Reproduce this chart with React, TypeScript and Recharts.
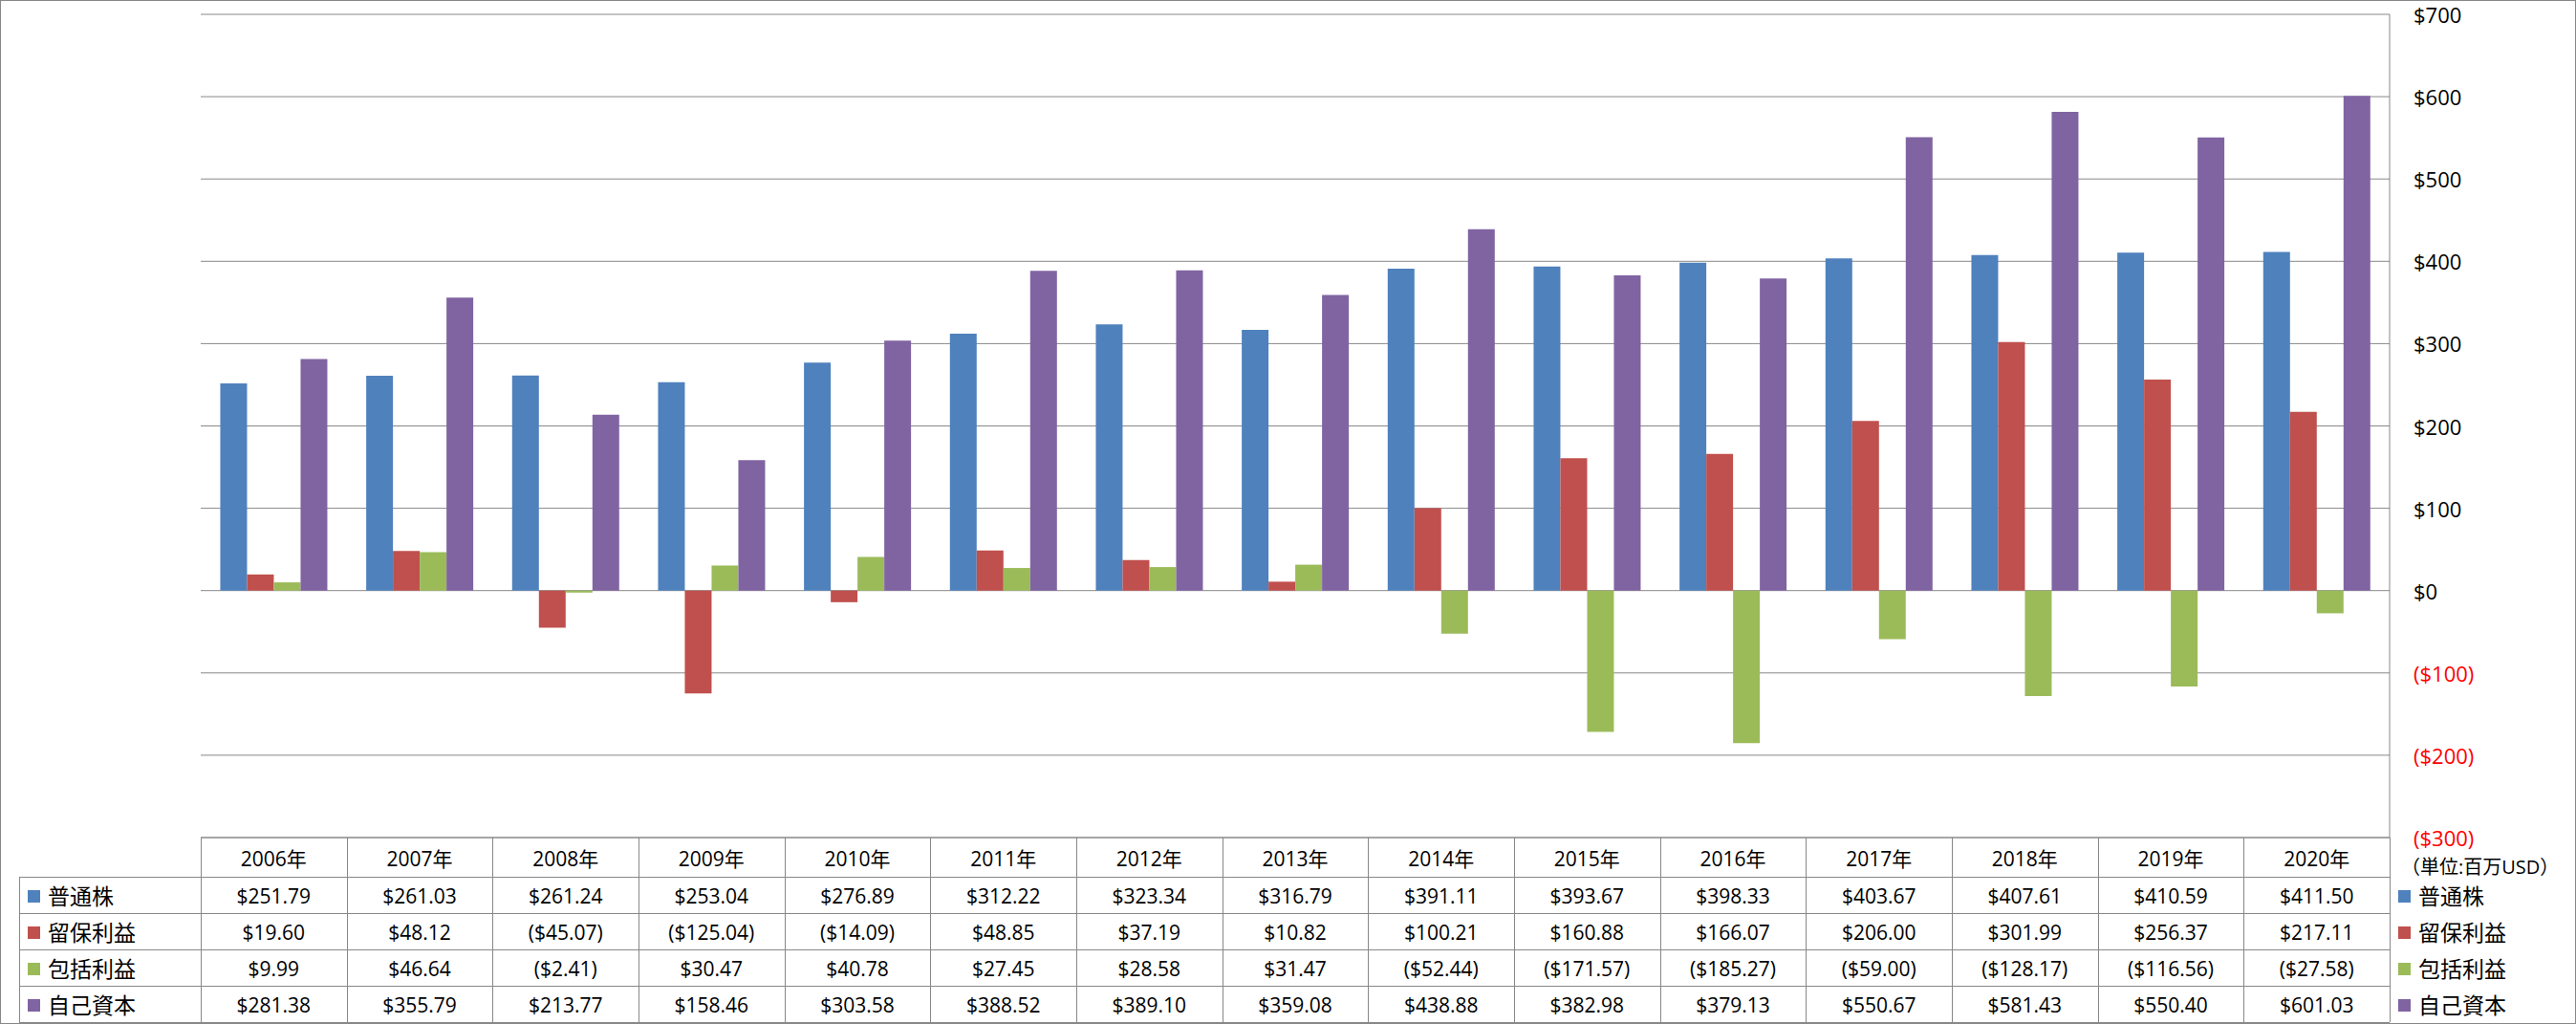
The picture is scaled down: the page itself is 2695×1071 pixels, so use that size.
import { BarChart, Bar, XAxis, YAxis, CartesianGrid } from 'recharts';

const years = ['2006年', '2007年', '2008年', '2009年', '2010年', '2011年', '2012年', '2013年', '2014年', '2015年', '2016年', '2017年', '2018年', '2019年', '2020年'];
const commonStock = [251.79, 261.03, 261.24, 253.04, 276.89, 312.22, 323.34, 316.79, 391.11, 393.67, 398.33, 403.67, 407.61, 410.59, 411.5];
const retainedEarnings = [19.6, 48.12, -45.07, -125.04, -14.09, 48.85, 37.19, 10.82, 100.21, 160.88, 166.07, 206.0, 301.99, 256.37, 217.11];
const comprehensiveIncome = [9.99, 46.64, -2.41, 30.47, 40.78, 27.45, 28.58, 31.47, -52.44, -171.57, -185.27, -59.0, -128.17, -116.56, -27.58];
const equity = [281.38, 355.79, 213.77, 158.46, 303.58, 388.52, 389.1, 359.08, 438.88, 382.98, 379.13, 550.67, 581.43, 550.4, 601.03];
const yTicks = [-300, -200, -100, 0, 100, 200, 300, 400, 500, 600, 700];
const unitLabel = '（単位:百万USD）';

const SERIES = [
  { key: 'common', name: '普通株', color: '#4F81BD', values: commonStock },
  { key: 'retained', name: '留保利益', color: '#C0504D', values: retainedEarnings },
  { key: 'comprehensive', name: '包括利益', color: '#9BBB59', values: comprehensiveIncome },
  { key: 'equity', name: '自己資本', color: '#8064A2', values: equity },
];

const data = years.map((year, i) => {
  const row: Record<string, string | number> = { year };
  SERIES.forEach((s) => { row[s.key] = s.values[i]; });
  return row;
});

const W = 2695;
const H = 1071;
const PLOT_LEFT = 210;
const PLOT_RIGHT = 2500;
const PLOT_TOP = 15;
const PLOT_BOTTOM = 876;
const COL_W = (PLOT_RIGHT - PLOT_LEFT) / years.length;
const HEADER_BOTTOM = 917;
const ROW_H = 38;
const LINE = '#888888';
const FONT = '"Open Sans", "Noto Sans CJK JP", sans-serif';

const money = (v: number) => (v < 0 ? `($${Math.abs(v).toFixed(2)})` : `$${v.toFixed(2)}`);
const axisMoney = (v: number) => (v < 0 ? `($${Math.abs(v)})` : `$${v}`);

function YTick(props: any) {
  const { x, y, payload } = props;
  const v = payload.value as number;
  return (
    <text x={x} y={y} fill={v < 0 ? '#FF0000' : '#000000'} fontSize={22} fontFamily={FONT}
      textAnchor="start" dominantBaseline="central">
      {axisMoney(v)}
    </text>
  );
}

function DataTable() {
  const rowTop = (r: number) => HEADER_BOTTOM + r * ROW_H;
  const tableBottom = rowTop(SERIES.length);
  return (
    <svg width={W} height={H} style={{ position: 'absolute', left: 0, top: 0, pointerEvents: 'none' }}>
      {/* horizontal lines */}
      <line x1={PLOT_LEFT} x2={PLOT_RIGHT} y1={PLOT_BOTTOM} y2={PLOT_BOTTOM} stroke={LINE} />
      {SERIES.map((_, r) => (
        <line key={r} x1={20} x2={PLOT_RIGHT} y1={rowTop(r) + 0.5} y2={rowTop(r) + 0.5} stroke={LINE} />
      ))}
      <line x1={20} x2={PLOT_RIGHT} y1={tableBottom + 0.5} y2={tableBottom + 0.5} stroke={LINE} />
      {/* vertical lines */}
      <line x1={20.5} x2={20.5} y1={HEADER_BOTTOM} y2={tableBottom} stroke={LINE} />
      {years.map((_, i) => (
        <line key={i} x1={Math.round(PLOT_LEFT + i * COL_W) + 0.5} x2={Math.round(PLOT_LEFT + i * COL_W) + 0.5}
          y1={PLOT_BOTTOM} y2={tableBottom} stroke={LINE} />
      ))}
      <line x1={PLOT_RIGHT + 0.5} x2={PLOT_RIGHT + 0.5} y1={PLOT_BOTTOM} y2={tableBottom} stroke={LINE} />

      {/* header */}
      {years.map((y, i) => (
        <text key={y} x={PLOT_LEFT + (i + 0.5) * COL_W} y={(PLOT_BOTTOM + HEADER_BOTTOM) / 2 + 1}
          fontSize={21} fontFamily={FONT} textAnchor="middle" dominantBaseline="central">{y}</text>
      ))}

      {/* rows */}
      {SERIES.map((s, r) => {
        const cy = rowTop(r) + ROW_H / 2 + 1;
        return (
          <g key={s.key}>
            <rect x={29} y={cy - 6} width={13} height={13} fill={s.color} />
            <text x={50} y={cy} fontSize={23} fontFamily={FONT} dominantBaseline="central">{s.name}</text>
            {s.values.map((v, i) => (
              <text key={i} x={PLOT_LEFT + (i + 0.5) * COL_W} y={cy} fontSize={21} fontFamily={FONT}
                textAnchor="middle" dominantBaseline="central">{money(v)}</text>
            ))}
            <rect x={2509} y={cy - 6} width={13} height={13} fill={s.color} />
            <text x={2530} y={cy} fontSize={23} fontFamily={FONT} dominantBaseline="central">{s.name}</text>
          </g>
        );
      })}
      <text x={2512} y={906} fontSize={20} fontFamily={FONT} dominantBaseline="central">{unitLabel}</text>
    </svg>
  );
}

export default function App() {
  return (
    <div style={{ position: 'absolute', left: 0, top: 0, width: W, height: H, background: '#fff', boxSizing: 'border-box', border: `1px solid ${LINE}` }}>
      <div style={{ position: 'absolute', left: -1, top: -1 }}>
        <BarChart width={W} height={H} data={data}
          margin={{ top: PLOT_TOP, right: 0, left: PLOT_LEFT, bottom: H - PLOT_BOTTOM }}
          barCategoryGap="13.4%" barGap={0}>
          <CartesianGrid vertical={false} stroke={LINE} />
          <XAxis dataKey="year" hide />
          <YAxis orientation="right" width={W - PLOT_RIGHT} domain={[-300, 700]} ticks={yTicks}
            interval={0} tickSize={0} tickMargin={25} tickLine={false}
            axisLine={{ stroke: LINE }} tick={<YTick />} />
          {SERIES.map((s) => (
            <Bar key={s.key} dataKey={s.key} name={s.name} fill={s.color} isAnimationActive={false} />
          ))}
        </BarChart>
      </div>
      <div style={{ position: 'absolute', left: -1, top: -1 }}>
        <DataTable />
      </div>
    </div>
  );
}
